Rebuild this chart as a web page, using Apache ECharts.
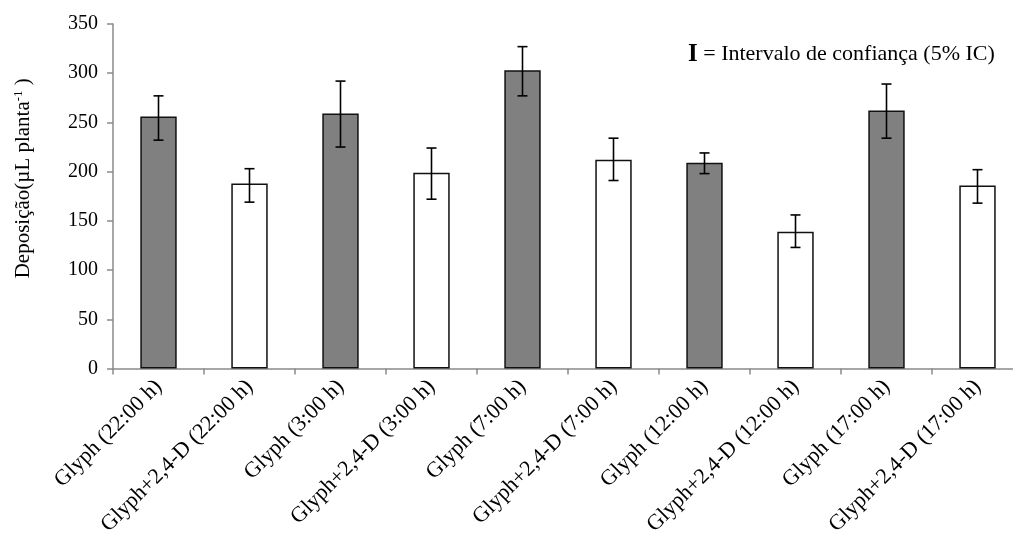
<!DOCTYPE html>
<html>
<head>
<meta charset="utf-8">
<script src="https://cdn.jsdelivr.net/npm/echarts@6/dist/echarts.min.js"></script>
<style>html,body{margin:0;padding:0;background:#fff;}#c{width:1013px;height:534px;}</style>
</head>
<body>
<div id="c"></div>
<script>
var categories = ['Glyph (22:00 h)','Glyph+2,4-D (22:00 h)','Glyph (3:00 h)','Glyph+2,4-D (3:00 h)','Glyph (7:00 h)','Glyph+2,4-D (7:00 h)','Glyph (12:00 h)','Glyph+2,4-D (12:00 h)','Glyph (17:00 h)','Glyph+2,4-D (17:00 h)'];
var deposition = [256, 188, 259, 199, 303, 212, 209, 139, 262, 186];
var ciUpper = [277, 203, 292, 224, 327, 234, 219, 156, 289, 202];
var ciLower = [232, 169, 225, 172, 277, 191, 198, 123, 234, 168];
var treatment = ['Glyph','Glyph+2,4-D','Glyph','Glyph+2,4-D','Glyph','Glyph+2,4-D','Glyph','Glyph+2,4-D','Glyph','Glyph+2,4-D'];
var yTicks = [0, 50, 100, 150, 200, 250, 300, 350];

var FONT = '"Liberation Serif", "Times New Roman", serif';
var fillFor = {'Glyph': '#808080', 'Glyph+2,4-D': '#ffffff'};

var chart = echarts.init(document.getElementById('c'));
var errData = categories.map(function (c, i) { return [i, ciLower[i], ciUpper[i]]; });

chart.setOption({
  animation: false,
  backgroundColor: '#ffffff',
  textStyle: { fontFamily: FONT },
  grid: { left: 113, top: 24, width: 910, height: 344.5, containLabel: false, outerBoundsMode: 'none' },
  xAxis: {
    type: 'category',
    data: categories,
    boundaryGap: true,
    axisLine: { lineStyle: { color: '#8a8a8a', width: 1.5 } },
    axisTick: { show: true, alignWithLabel: false, length: 6, lineStyle: { color: '#8a8a8a', width: 1.5 } },
    axisLabel: { rotate: 45, interval: 0, margin: 15, color: '#000', fontFamily: FONT, fontSize: 22 }
  },
  yAxis: {
    type: 'value',
    min: yTicks[0],
    max: yTicks[yTicks.length - 1],
    interval: 50,
    name: 'Deposição(µL planta{sup|-1} )',
    nameLocation: 'middle',
    nameGap: 79,
    nameRotate: 90,
    nameTextStyle: {
      color: '#000', fontFamily: FONT, fontSize: 21,
      padding: [0, 0, 0, 36],
      rich: { sup: { fontSize: 13, verticalAlign: 'top', padding: [0, 0, 9, 0], fontFamily: FONT, color: '#000' } }
    },
    axisLine: { show: true, lineStyle: { color: '#8a8a8a', width: 1.5 } },
    axisTick: { show: true, length: 6, lineStyle: { color: '#8a8a8a', width: 1.5 } },
    axisLabel: { margin: 15, color: '#000', fontFamily: FONT, fontSize: 20 },
    splitLine: { show: false }
  },
  graphic: [{
    type: 'text',
    left: 688,
    top: 42,
    style: {
      text: '{b|I} = Intervalo de confiança (5% IC)',
      fontFamily: FONT,
      fontSize: 22,
      fill: '#000',
      rich: { b: { fontSize: 25, fontWeight: 'bold', fontFamily: FONT, fill: '#000' } }
    }
  }],
  series: [{
    type: 'bar',
    barWidth: '40%',
    data: deposition.map(function (v, i) {
      return { value: v, itemStyle: { color: fillFor[treatment[i]] } };
    }),
    itemStyle: { borderColor: '#111', borderWidth: 1.5 }
  }, {
    type: 'custom',
    data: errData,
    z: 10,
    renderItem: function (params, api) {
      var x = api.value(0);
      var lo = api.coord([x, api.value(1)]);
      var hi = api.coord([x, api.value(2)]);
      var hw = 5;
      var st = { stroke: '#000', lineWidth: 1.6 };
      return {
        type: 'group',
        children: [
          { type: 'line', shape: { x1: lo[0], y1: lo[1], x2: hi[0], y2: hi[1] }, style: st },
          { type: 'line', shape: { x1: hi[0] - hw, y1: hi[1], x2: hi[0] + hw, y2: hi[1] }, style: st },
          { type: 'line', shape: { x1: lo[0] - hw, y1: lo[1], x2: lo[0] + hw, y2: lo[1] }, style: st }
        ]
      };
    }
  }]
});
</script>
</body>
</html>
